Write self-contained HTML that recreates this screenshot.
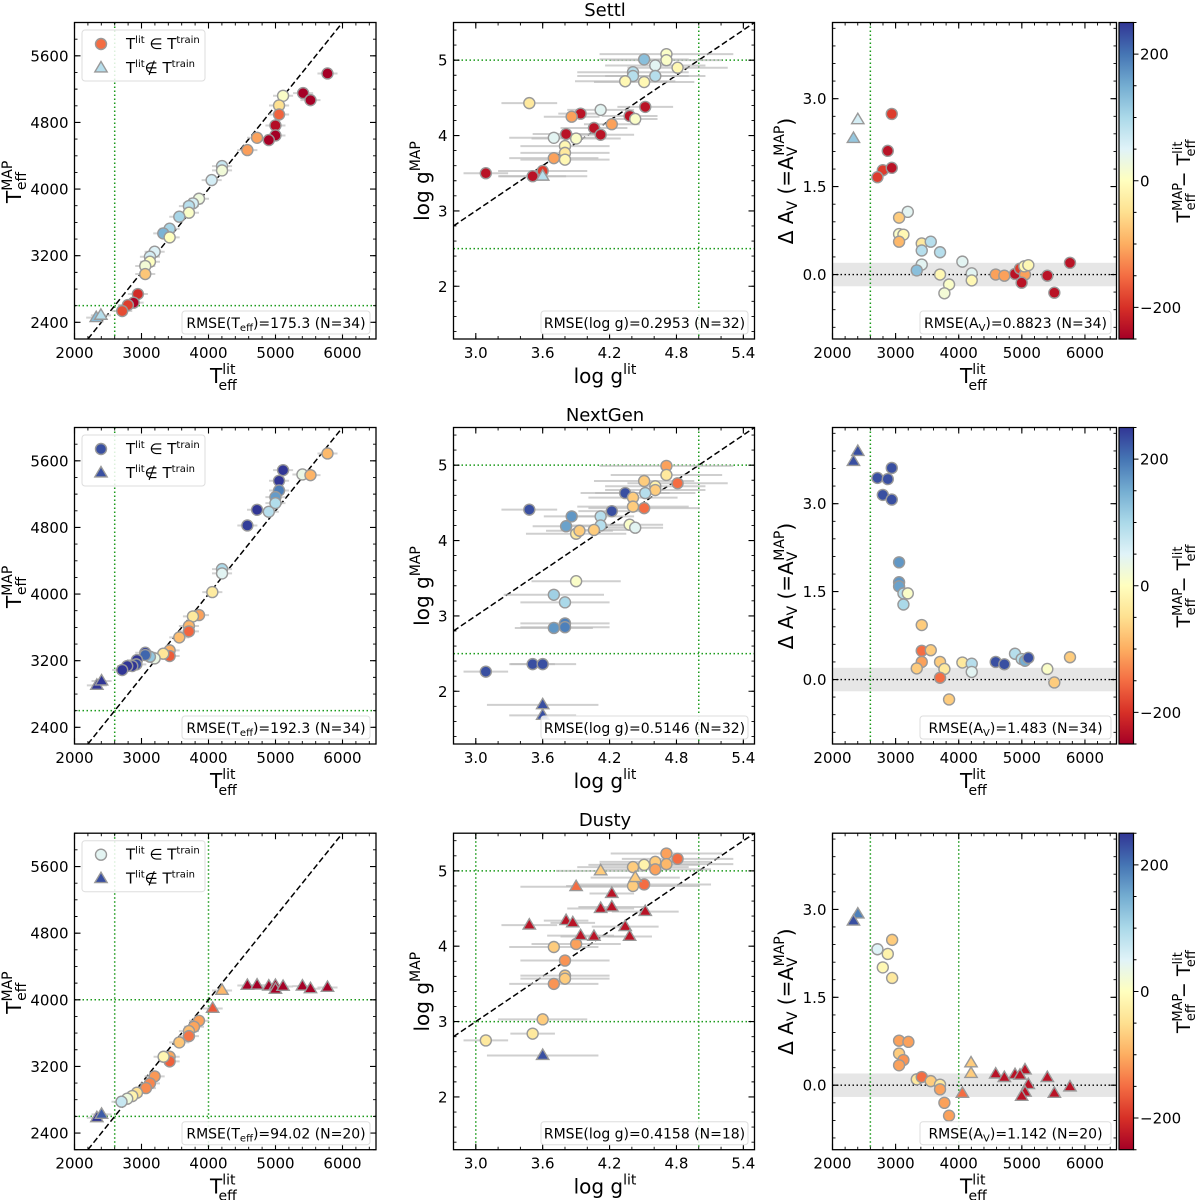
<!DOCTYPE html>
<html><head><meta charset="utf-8">
<style>
html,body{margin:0;padding:0;background:#fff;}
svg{display:block;font-family:"DejaVu Sans","Liberation Sans",sans-serif;}
</style></head>
<body>
<svg id="fig" width="1200" height="1200" viewBox="0 0 1200 1200"></svg>
<script>
// ---------------- DATA ----------------
// Settl
var s_tLit=[5776,5412,5522,5113,5053,5053,4999,4999,4900,4725,4580,4202,4202,4047,3858,3768,3708,3708,3564,3420,3325,3420,3196,3126,3126,3056,3056,2946,2882,2797,2712];
var s_tMap=[5388,5152,5068,5120,5004,4896,4764,4644,4588,4616,4468,4276,4224,4108,3884,3828,3796,3716,3668,3524,3468,3420,3248,3188,3128,3076,2980,2740,2636,2608,2536];
var s_tLitTri=[2324,2394];
var s_tMapTri=[2456,2484];
var s_gLit=[4.71,4.71,4.51,4.61,4.81,4.41,4.41,4.61,4.34,4.51,3.48,4.12,4.52,3.94,3.86,4.38,4.43,4.06,4.22,3.81,4.12,3.70,3.90,3.80,3.80,3.80,3.70,3.09,3.51,3.60];
var s_gMap=[5.08,5.00,5.01,4.93,4.90,4.84,4.79,4.79,4.72,4.71,4.43,4.34,4.38,4.29,4.25,4.26,4.22,4.10,4.15,4.02,4.01,3.97,3.96,3.86,3.77,3.68,3.70,3.50,3.46,3.53];
var s_gErr=[0.6,0.5,0.4,0.45,0.45,0.5,0.5,0.45,0.45,0.45,0.25,0.3,0.25,0.2,0.25,0.25,0.2,0.3,0.25,0.3,0.3,0.4,0.4,0.4,0.4,0.4,0.4,0.2,0.3,0.4];
var s_gCol=[8,8,130,45,-12,90,90,90,-12,-12,-35,45,-230,-230,-110,-230,8,-230,-110,-230,-230,45,8,-12,-35,-12,-110,-230,-230,-190];
var s_gLitTri=[3.60];
var s_gMapTri=[3.46];
var s_gErrTri=[0.4];
var s_gColTri=[90];
var s_aT=[2939,2876,2797,2939,2712,3193,3055,3055,3124,3055,3414,3414,3557,3704,3414,3335,3704,3847,3773,4058,4206,4206,4586,4723,4892,4971,5050,5040,5103,4997,5404,5515,5763];
var s_aAv=[2.74,2.11,1.78,1.82,1.66,1.07,0.97,0.69,0.68,0.56,0.53,0.41,0.56,0.38,0.17,0.07,0.0,-0.17,-0.32,0.22,0.02,-0.10,0.0,-0.02,0.01,0.10,0.0,0.14,0.16,-0.14,-0.02,-0.31,0.20];
var s_aCol=[-190,-230,-190,-230,-190,45,-70,8,-12,-90,-35,90,90,90,45,130,-12,8,20,45,45,-12,-110,-110,-230,-190,-110,-12,-12,-230,-230,-230,-230];
var s_aTTri=[2401,2332];
var s_aAvTri=[2.64,2.32];
var s_aColTri=[60,120];
// NextGen
var n_tLit=[5776,5113,5402,5522,5053,5053,4999,4999,4900,4725,4580,4202,4202,4057,3858,3768,3708,3708,3564,3420,3420,3325,3196,3126,3056,3056,2932,2922,2862,2787,2712];
var n_tMap=[5688,5488,5436,5428,5360,5244,5164,5092,4988,5012,4824,4300,4248,4024,3748,3732,3616,3552,3480,3324,3256,3284,3228,3248,3296,3268,3208,3156,3136,3136,3088];
var n_tLitTri=[2334,2404];
var n_tMapTri=[2904,2956];
var n_gLit=[4.71,4.71,4.51,4.61,4.61,4.81,4.34,4.52,4.41,4.41,4.51,3.48,4.22,3.86,4.12,3.81,4.12,4.38,4.43,3.90,3.93,4.06,3.90,3.70,3.80,3.80,3.80,3.70,3.51,3.60,3.09];
var n_gMap=[4.99,4.87,4.79,4.72,4.67,4.76,4.63,4.63,4.57,4.45,4.43,4.41,4.39,4.32,4.32,4.19,4.20,4.21,4.17,4.09,4.13,4.14,3.46,3.28,3.18,2.90,2.85,2.84,2.36,2.36,2.26];
var n_gErr=[0.6,0.5,0.45,0.45,0.45,0.45,0.4,0.45,0.4,0.5,0.5,0.25,0.3,0.25,0.3,0.3,0.3,0.3,0.25,0.45,0.3,0.3,0.4,0.45,0.4,0.4,0.4,0.35,0.2,0.3,0.2];
var n_gCol=[-110,-35,-70,-20,-70,-150,230,90,-70,-70,-150,230,230,170,90,160,90,8,45,-35,-70,-70,8,110,100,190,190,170,230,230,230];
var n_gLitTri=[3.60,3.60];
var n_gMapTri=[1.82,1.68];
var n_gErrTri=[0.5,0.3];
var n_gColTri=[230,230];
var n_aT=[2939,2712,2876,2797,2939,3055,3055,3055,3124,3193,3124,3414,3414,3557,3414,3335,3704,3773,3704,3847,4058,4206,4206,4586,4723,4892,4997,5050,5103,5404,5515,5763];
var n_aAv=[3.61,3.44,3.42,3.15,3.07,2.0,1.66,1.59,1.47,1.47,1.28,0.93,0.49,0.50,0.30,0.19,0.30,0.18,0.03,-0.34,0.29,0.27,0.13,0.30,0.26,0.44,0.35,0.32,0.37,0.18,-0.05,0.38];
var n_aCol=[230,230,230,230,230,170,170,160,90,8,100,-70,-150,-70,-110,-70,-70,-35,-150,-70,-35,90,45,230,230,90,90,150,230,8,-70,-70];
var n_aTTri=[2401,2332];
var n_aAvTri=[3.89,3.72];
var n_aColTri=[230,230];
// Dusty
var d_tLit=[3858,3783,3708,3708,3564,3420,3420,3330,3196,3126,3066,2932,2862,2787,2702];
var d_tMap=[3748,3676,3624,3564,3488,3316,3260,3316,3080,2996,2940,2884,2844,2812,2776];
var d_tLitTri=[4202,4062,4580,4725,4900,4999,4999,5113,5402,5522,5776,2334,2404];
var d_tMapTri=[4112,3896,4172,4176,4164,4172,4124,4160,4164,4132,4148,2584,2624];
var d_gLit=[4.71,4.81,4.61,4.71,4.51,4.41,4.61,4.51,4.41,3.70,3.90,3.80,3.80,3.80,3.70,3.60,3.51,3.09];
var d_gMap=[5.23,5.16,5.12,5.09,5.08,5.05,5.02,4.82,4.80,3.99,4.03,3.81,3.61,3.57,3.50,3.03,2.84,2.75];
var d_gErr=[0.5,0.5,0.5,0.6,0.5,0.5,0.5,0.6,0.6,0.4,0.4,0.4,0.4,0.4,0.4,0.4,0.2,0.2];
var d_gCol=[-110,-150,-70,-90,-20,-70,-110,-150,-70,-70,-110,-120,-70,-70,-120,-70,-35,-35];
var d_gLitTri=[4.12,4.43,3.90,4.22,4.12,4.22,4.52,3.81,3.87,3.48,4.34,4.38,3.94,4.06,3.60];
var d_gMapTri=[5.00,4.91,4.79,4.70,4.50,4.52,4.46,4.34,4.31,4.28,4.26,4.13,4.14,4.13,2.55];
var d_gErrTri=[0.4,0.4,0.5,0.2,0.3,0.3,0.3,0.2,0.2,0.25,0.3,0.2,0.3,0.3,0.5];
var d_gColTri=[-70,-70,-150,-230,-230,-230,-230,-230,-230,-230,-230,-230,-230,-230,230];
var d_aT=[2712,2876,2945,2797,2945,3055,3203,3055,3124,3055,3335,3414,3557,3704,3704,3773,3847];
var d_aAv=[2.32,2.24,2.48,2.01,1.83,0.76,0.74,0.54,0.43,0.34,0.10,0.14,0.07,0.01,-0.07,-0.30,-0.52];
var d_aCol=[50,-20,-70,-12,-35,-110,-110,-70,-120,-110,-35,-150,-70,-35,-110,-110,-110];
var d_aTTri=[4195,4195,4058,4586,4723,4892,5050,4971,5103,5050,4997,5404,5515,5763,2401,2332];
var d_aAvTri=[0.38,0.20,-0.14,0.19,0.13,0.18,0.26,0.17,0.01,-0.12,-0.19,0.13,-0.14,-0.03,2.92,2.80];
var d_aColTri=[-70,-70,-150,-230,-230,-230,-230,-230,-230,-230,-230,-230,-230,-230,190,230];

var titles=["Settl","NextGen","Dusty"];
var rmseT=["RMSE(T|eff|)=175.3 (N=34)","RMSE(T|eff|)=192.3 (N=34)","RMSE(T|eff|)=94.02 (N=20)"];
var rmseG=["RMSE(log g)=0.2953 (N=32)","RMSE(log g)=0.5146 (N=32)","RMSE(log g)=0.4158 (N=18)"];
var rmseA=["RMSE(A|V|)=0.8823 (N=34)","RMSE(A|V|)=1.483 (N=34)","RMSE(A|V|)=1.142 (N=20)"];
var legCircleCol=[-150,230,45];
var legTriCol=[90,230,230];
var tickT=[2000,3000,4000,5000,6000];
var tickTy=[2400,3200,4000,4800,5600];
var tickG=[3.0,3.6,4.2,4.8,5.4];
var tickGy=[2,3,4,5];
var tickA=[0,1.5,3.0];
var tickCb=[-200,0,200];

// ---------------- HELPERS ----------------
var NS="http://www.w3.org/2000/svg";
var svg=document.getElementById("fig");
function mk(tag,parent){var e=document.createElementNS(NS,tag);parent.appendChild(e);return e;}
function at(e,o){for(var k in o)e.setAttribute(k,o[k]);return e;}
var stops=[[0,[165,0,38]],[0.1,[215,48,39]],[0.2,[244,109,67]],[0.3,[253,174,97]],[0.4,[254,224,144]],[0.5,[255,255,191]],[0.6,[224,243,248]],[0.7,[171,217,233]],[0.8,[116,173,209]],[0.9,[69,117,180]],[1,[49,54,149]]];
function cmap(v){var t=(v+250)/500;t=Math.max(0,Math.min(1,t));
  for(var i=1;i<stops.length;i++){if(t<=stops[i][0]){var a=stops[i-1],b=stops[i],f=(t-a[0])/(b[0]-a[0]);
    var c=a[1].map(function(x,j){return Math.round(x+(b[1][j]-x)*f);});return "rgb("+c.join(",")+")";}}
  return "rgb(49,54,149)";}
var defs=mk("defs",svg);
var grad=at(mk("linearGradient",defs),{id:"cbgrad",x1:0,y1:1,x2:0,y2:0});
stops.forEach(function(s){at(mk("stop",grad),{offset:s[0],"stop-color":"rgb("+s[1].join(",")+")"});});

function sx(lo,hi,p0,p1){return function(v){return p0+(v-lo)/(hi-lo)*(p1-p0);};}
function rmseText(parent,x,y,str){
  var t=at(mk("text",parent),{x:x,y:y,"font-size":14,"text-anchor":"middle",fill:"#000"});
  var parts=str.split("|");
  t.innerHTML=parts[0]+(parts.length>1?'<tspan font-size="10" dy="3">'+parts[1]+'</tspan><tspan dy="-3">'+parts[2]+'</tspan>':"");
  return t;
}
function circle(g,x,y,col){var c=at(mk("circle",g),{cx:x,cy:y,r:5.5,fill:col,stroke:"#999",  "stroke-width":1.4});return c;}
function tri(g,x,y,col){var s=6.5;var p=at(mk("polygon",g),{points:(x)+","+(y-s)+" "+(x-s*0.95)+","+(y+s*0.6)+" "+(x+s*0.95)+","+(y+s*0.6),fill:col,stroke:"#999","stroke-width":1.4});return p;}

function frameTicks(g,X,Y,x0,x1,y0,y1,xMaj,xMin,yMaj,yMin,xLab,yLab){
  var path="";
  xMin.forEach(function(v){var p=X(v);if(p<x0-0.5||p>x1+0.5)return;path+="M"+p+","+y1+"v-3M"+p+","+y0+"v3";});
  yMin.forEach(function(v){var p=Y(v);if(p<y0-0.5||p>y1+0.5)return;path+="M"+x0+","+p+"h3M"+x1+","+p+"h-3";});
  var pm="";
  xMaj.forEach(function(v){var p=X(v);pm+="M"+p+","+y1+"v-6M"+p+","+y0+"v6";});
  yMaj.forEach(function(v){var p=Y(v);pm+="M"+x0+","+p+"h6M"+x1+","+p+"h-6";});
  var tk=at(mk("path",g),{d:path,stroke:"#000","stroke-width":0.9,fill:"none"});
  
  
  var tm=at(mk("path",g),{d:pm,stroke:"#000","stroke-width":1.1,fill:"none"});
  
  
  var fr=at(mk("rect",g),{x:x0,y:y0,width:x1-x0,height:y1-y0,fill:"none",stroke:"#000","stroke-width":1.3});
  
  
  xMaj.forEach(function(v,i){var t=at(mk("text",g),{x:X(v),y:y1+19,"font-size":15,"text-anchor":"middle"});t.textContent=xLab[i];
    
    });
  yMaj.forEach(function(v,i){var t=at(mk("text",g),{x:x0-6,y:Y(v)+5.5,"font-size":15,"text-anchor":"end"});t.textContent=yLab[i];
    
    });
}
function range(a,b,s){var r=[];for(var v=a;v<=b+1e-9;v+=s)r.push(Math.round(v*1000)/1000);return r;}
function gline(g,x1,y1,x2,y2){var l=at(mk("line",g),{x1:x1,y1:y1,x2:x2,y2:y2,stroke:"#1a9a1a","stroke-width":1.5,"stroke-dasharray":"1.5,2.5"});
  
  }
function clip(id,x0,y0,x1,y1){var cp=at(mk("clipPath",defs),{id:id});at(mk("rect",cp),{x:x0,y:y0,width:x1-x0,height:y1-y0});}

// ---------------- PANELS ----------------
var rows=[
 {tLit:s_tLit,tMap:s_tMap,tLitT:s_tLitTri,tMapT:s_tMapTri,gLit:s_gLit,gMap:s_gMap,gErr:s_gErr,gCol:s_gCol,gLitT:s_gLitTri,gMapT:s_gMapTri,gErrT:s_gErrTri,gColT:s_gColTri,aT:s_aT,aAv:s_aAv,aCol:s_aCol,aTT:s_aTTri,aAvT:s_aAvTri,aColT:s_aColTri,dusty:false},
 {tLit:n_tLit,tMap:n_tMap,tLitT:n_tLitTri,tMapT:n_tMapTri,gLit:n_gLit,gMap:n_gMap,gErr:n_gErr,gCol:n_gCol,gLitT:n_gLitTri,gMapT:n_gMapTri,gErrT:n_gErrTri,gColT:n_gColTri,aT:n_aT,aAv:n_aAv,aCol:n_aCol,aTT:n_aTTri,aAvT:n_aAvTri,aColT:n_aColTri,dusty:false},
 {tLit:d_tLit,tMap:d_tMap,tLitT:d_tLitTri,tMapT:d_tMapTri,gLit:d_gLit,gMap:d_gMap,gErr:d_gErr,gCol:d_gCol,gLitT:d_gLitTri,gMapT:d_gMapTri,gErrT:d_gErrTri,gColT:d_gColTri,aT:d_aT,aAv:d_aAv,aCol:d_aCol,aTT:d_aTTri,aAvT:d_aAvTri,aColT:d_aColTri,dusty:true}
];

rows.forEach(function(R,r){
  var dy=405*r+(r==2?0.7:0);
  var y0=22.5+dy,y1=339+dy;

  var ti=at(mk("text",svg),{x:605,y:16+405*r,"font-size":18,"text-anchor":"middle"});ti.textContent=titles[r];
  
  

  // ===== Teff panel =====
  var gT=mk("g",svg);
  
  
  var x0=74.5,x1=376;
  var X=sx(2000,6500,x0,x1),Y=sx(6000,2200,y0,y1);
  clip("cT"+r,x0,y0,x1,y1);
  var pT=at(mk("g",gT),{"clip-path":"url(#cT"+r+")"});
  gline(pT,X(2600),y0,X(2600),y1);gline(pT,x0,Y(2600),x1,Y(2600));
  if(R.dusty){gline(pT,X(4000),y0,X(4000),y1);gline(pT,x0,Y(4000),x1,Y(4000));}
  var dl=at(mk("line",pT),{x1:X(2200),y1:Y(2200),x2:X(6000),y2:Y(6000),stroke:"#000","stroke-width":1.5,"stroke-dasharray":"6,3"});
  
  
  function tErr(a,b){a.forEach(function(v,i){var l=at(mk("line",pT),{x1:X(v-150),x2:X(v+150),y1:Y(b[i]),y2:Y(b[i]),stroke:"#c8c8c8","stroke-width":2,opacity:0.8});
    
    });}
  tErr(R.tLit,R.tMap);tErr(R.tLitT,R.tMapT);
  R.tLit.forEach(function(v,i){var c=circle(pT,X(v),Y(R.tMap[i]),cmap(R.tMap[i]-v));
    
    });
  R.tLitT.forEach(function(v,i){var c=tri(pT,X(v),Y(R.tMapT[i]),cmap(R.tMapT[i]-v));
    
    });
  frameTicks(gT,X,Y,x0,x1,y0,y1,tickT,range(2000,6400,200),tickTy,range(2200,6000,200),tickT.map(String),tickTy.map(String));
  var lg=mk("g",gT);
  
  
  at(mk("rect",lg),{x:82,y:30+dy,width:123,height:51,rx:3,fill:"#fff","fill-opacity":0.85,stroke:"#ddd"});
  var lc=circle(lg,101,44+dy,cmap(legCircleCol[r]));
  
  
  var lt=tri(lg,101,68+dy,cmap(legTriCol[r]));
  
  
  var l1=at(mk("text",lg),{x:126,y:49+dy,"font-size":15});
  l1.innerHTML='T<tspan font-size="10" dy="-6">lit</tspan><tspan dy="6"> ∈ T</tspan><tspan font-size="10" dy="-6">train</tspan>';
  
  
  var l2=at(mk("text",lg),{x:126,y:73+dy,"font-size":15});
  l2.innerHTML='T<tspan font-size="10" dy="-6">lit</tspan><tspan dy="6">∉ T</tspan><tspan font-size="10" dy="-6">train</tspan>';
  
  
  var rb=at(mk("rect",gT),{x:182,y:311+dy,width:188,height:23,rx:3,fill:"#fff","fill-opacity":0.85,stroke:"#ddd"});
  
  
  var rt=rmseText(gT,276,328+dy,rmseT[r]);
  
  
  var xl=at(mk("text",gT),{x:210,y:383+dy,"font-size":20});
  xl.innerHTML='T<tspan font-size="14" dy="-9">lit</tspan><tspan font-size="14" dx="-17" dy="16">eff</tspan>';
  
  
  var yl=at(mk("text",gT),{x:0,y:0,"font-size":20,transform:"translate(21,"+(203+dy)+") rotate(-90)"});
  yl.innerHTML='T<tspan font-size="14" dy="-9">MAP</tspan><tspan font-size="14" dx="-29" dy="14">eff</tspan>';
  
  

  // ===== log g panel =====
  var gG=mk("g",svg);
  
  
  x0=453.5;x1=754.5;
  var GX=sx(2.8,5.5,x0,x1),GY=sx(5.5,1.3,y0,y1);
  clip("cG"+r,x0,y0,x1,y1);
  var pG=at(mk("g",gG),{"clip-path":"url(#cG"+r+")"});
  if(R.dusty){gline(pG,GX(3.0),y0,GX(3.0),y1);gline(pG,x0,GY(3.0),x1,GY(3.0));}
  else{gline(pG,x0,GY(2.5),x1,GY(2.5));}
  gline(pG,GX(5.0),y0,GX(5.0),y1);gline(pG,x0,GY(5.0),x1,GY(5.0));
  var dl2=at(mk("line",pG),{x1:GX(2.8),y1:GY(2.8),x2:GX(5.5),y2:GY(5.5),stroke:"#000","stroke-width":1.5,"stroke-dasharray":"6,3"});
  
  
  function gErrs(a,b,e){a.forEach(function(v,i){var l=at(mk("line",pG),{x1:GX(v-e[i]),x2:GX(v+e[i]),y1:GY(b[i]),y2:GY(b[i]),stroke:"#bbb","stroke-width":2,opacity:0.7});
    
    });}
  gErrs(R.gLit,R.gMap,R.gErr);gErrs(R.gLitT,R.gMapT,R.gErrT);
  R.gLit.forEach(function(v,i){var c=circle(pG,GX(v),GY(R.gMap[i]),cmap(R.gCol[i]));
    
    });
  R.gLitT.forEach(function(v,i){var c=tri(pG,GX(v),GY(R.gMapT[i]),cmap(R.gColT[i]));
    
    });
  frameTicks(gG,GX,GY,x0,x1,y0,y1,tickG,range(2.8,5.4,0.2),tickGy,range(1.4,5.4,0.2),tickG.map(function(v){return v.toFixed(1);}),tickGy.map(String));
  var rb2=at(mk("rect",gG),{x:541,y:311+dy,width:207,height:23,rx:3,fill:"#fff","fill-opacity":0.85,stroke:"#ddd"});
  
  
  var rt2=rmseText(gG,644.5,328+dy,rmseG[r]);
  
  
  var xl2=at(mk("text",gG),{x:605,y:383+dy,"font-size":20,"text-anchor":"middle"});
  xl2.innerHTML='log g<tspan font-size="14" dy="-9">lit</tspan>';
  
  
  var yl2=at(mk("text",gG),{x:0,y:0,"font-size":20,"text-anchor":"middle",transform:"translate(429,"+(181+dy)+") rotate(-90)"});
  yl2.innerHTML='log g<tspan font-size="14" dy="-9">MAP</tspan>';
  
  

  // ===== A_V panel =====
  var gA=mk("g",svg);
  
  
  x0=832.5;x1=1116.5;
  var AX=sx(2000,6500,x0,x1),AY=sx(4.3,-1.1,y0,y1);
  clip("cA"+r,x0,y0,x1,y1);
  var pA=at(mk("g",gA),{"clip-path":"url(#cA"+r+")"});
  var band=at(mk("rect",pA),{x:x0,y:AY(0.2),width:x1-x0,height:AY(-0.2)-AY(0.2),fill:"#e6e6e6"});
  
  
  var zl=at(mk("line",pA),{x1:x0,x2:x1,y1:AY(0),y2:AY(0),stroke:"#000","stroke-width":1.4,"stroke-dasharray":"1.5,2.5"});
  
  
  gline(pA,AX(2600),y0,AX(2600),y1);
  if(R.dusty)gline(pA,AX(4000),y0,AX(4000),y1);
  R.aT.forEach(function(v,i){var c=circle(pA,AX(v),AY(R.aAv[i]),cmap(R.aCol[i]));
    
    });
  R.aTT.forEach(function(v,i){var c=tri(pA,AX(v),AY(R.aAvT[i]),cmap(R.aColT[i]));
    
    });
  frameTicks(gA,AX,AY,x0,x1,y0,y1,tickT,range(2000,6400,200),tickA,range(-0.9,4.2,0.3),tickT.map(String),tickA.map(function(v){return v.toFixed(1);}));
  var rb3=at(mk("rect",gA),{x:920,y:311+dy,width:191,height:23,rx:3,fill:"#fff","fill-opacity":0.85,stroke:"#ddd"});
  
  
  var rt3=rmseText(gA,1015.5,328+dy,rmseA[r]);
  
  
  var xl3=at(mk("text",gA),{x:960,y:383+dy,"font-size":20});
  xl3.innerHTML='T<tspan font-size="14" dy="-9">lit</tspan><tspan font-size="14" dx="-17" dy="16">eff</tspan>';
  
  
  var yl3=at(mk("text",gA),{x:0,y:0,"font-size":20,"text-anchor":"middle",transform:"translate(793,"+(181+dy)+") rotate(-90)"});
  yl3.innerHTML='Δ A<tspan font-size="14" dy="4">V</tspan><tspan dy="-4"> (=A</tspan><tspan font-size="14" dy="4">V</tspan><tspan font-size="14" dx="-9" dy="-13">MAP</tspan><tspan dy="9">)</tspan>';
  
  

  // ===== colorbar =====
  var gC=mk("g",svg);
  
  
  var CY=sx(250,-250,y0,y1);
  var cr=at(mk("rect",gC),{x:1119,y:y0,width:14.5,height:y1-y0,fill:"url(#cbgrad)",stroke:"#000","stroke-width":1.2});
  
  
  var cp="";range(-250,250,50).forEach(function(v){cp+="M1133.5,"+CY(v)+"h3";});
  tickCb.forEach(function(v){cp+="M1133.5,"+CY(v)+"h5";});
  at(mk("path",gC),{d:cp,stroke:"#000","stroke-width":1});
  tickCb.forEach(function(v){var t=at(mk("text",gC),{x:1140,y:CY(v)+5.5,"font-size":15});t.textContent=(v<0?"\u2212"+(-v):String(v));
    
    });
  var cl=at(mk("text",gC),{x:0,y:0,"font-size":19,"text-anchor":"middle",transform:"translate(1190,"+(181+dy)+") rotate(-90)"});
  cl.innerHTML='T<tspan font-size="13" dy="-8">MAP</tspan><tspan font-size="13" dx="-27" dy="13">eff</tspan><tspan dy="-5"> − T</tspan><tspan font-size="13" dy="-8">lit</tspan><tspan font-size="13" dx="-15" dy="13">eff</tspan>';
  
  
});
</script>
</body></html>
